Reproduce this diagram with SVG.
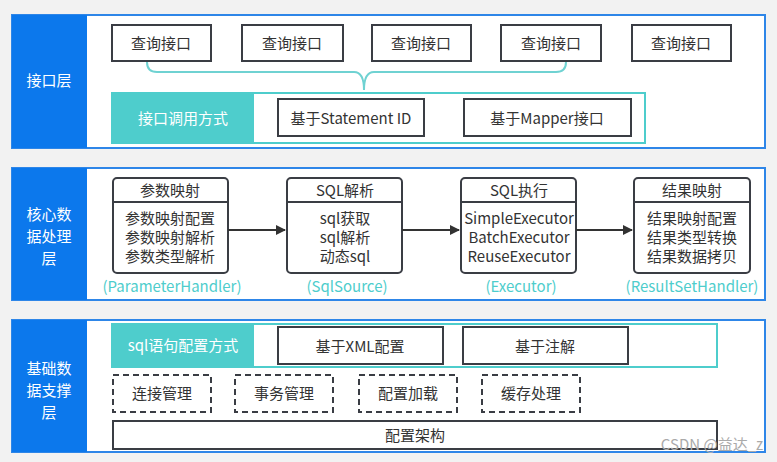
<svg xmlns="http://www.w3.org/2000/svg" width="777" height="462" viewBox="0 0 777 462">
<style>
text{font-family:"Noto Sans CJK SC","Noto Sans",sans-serif;font-size:15px;fill:#333;text-anchor:middle}
.w{fill:#fff}
.t{fill:#4ecdcc}
.layer{fill:#fff;stroke:#2e86e8;stroke-width:2}
.side{fill:#0c78ec}
.box{fill:#fff;stroke:#3a3d44;stroke-width:2}
.dash{fill:#fff;stroke:#3a3d44;stroke-width:2;stroke-dasharray:6 4}
.row{fill:#fff;stroke:#4ecdcc;stroke-width:2}
.card{fill:#fff;stroke:#3a3d44;stroke-width:2}
</style>
<defs><marker id="a" markerWidth="10" markerHeight="10" refX="9" refY="5" orient="auto" markerUnits="userSpaceOnUse"><path d="M0,0 L10,5 L0,10Z" fill="#333"/></marker></defs>
<rect width="777" height="462" fill="#f2f2f2"/>
<g id="layer1">
<rect class="layer" x="12" y="15" width="753" height="133"/>
<rect class="side" x="12" y="15" width="75" height="133"/>
<text class="w" x="49" y="86">接口层</text>
</g>
<g id="q1"><rect class="box" x="112" y="25" width="99" height="36"/><text x="161" y="49">查询接口</text></g>
<g id="q2"><rect class="box" x="242" y="25" width="101" height="36"/><text x="292" y="49">查询接口</text></g>
<g id="q3"><rect class="box" x="372" y="25" width="99" height="36"/><text x="421" y="49">查询接口</text></g>
<g id="q4"><rect class="box" x="501" y="25" width="100" height="36"/><text x="551" y="49">查询接口</text></g>
<g id="q5"><rect class="box" x="632" y="25" width="99" height="36"/><text x="681" y="49">查询接口</text></g>
<g id="call">
<rect class="row" x="112" y="93" width="533" height="50"/>
<rect class="t" x="112" y="92" width="142" height="52"/>
<text class="w" x="183" y="124">接口调用方式</text>
</g>
<g id="s1"><rect class="box" x="278" y="99" width="146" height="37"/><text x="351" y="124">基于Statement ID</text></g>
<g id="s2"><rect class="box" x="464" y="99" width="167" height="37"/><text x="547" y="124">基于Mapper接口</text></g>

<g id="layer2">
<rect class="layer" x="12" y="168" width="753" height="132"/>
<rect class="side" x="12" y="168" width="75" height="132"/>
<text class="w" x="49" y="220">核心数</text><text class="w" x="49" y="242">据处理</text><text class="w" x="49" y="264">层</text>
</g>
<g id="c1"><rect class="card" x="113" y="178" width="115" height="95" rx="4"/><line x1="113" y1="202" x2="228" y2="202" stroke="#3a3d44" stroke-width="2"/>
<text x="170" y="196">参数映射</text><text x="170" y="224" font-size="13">参数映射配置</text><text x="170" y="243" font-size="13">参数映射解析</text><text x="170" y="262" font-size="13">参数类型解析</text>
<text class="t" x="172" y="292">(ParameterHandler)</text></g>
<g id="c2"><rect class="card" x="287" y="178" width="115" height="95" rx="4"/><line x1="287" y1="202" x2="402" y2="202" stroke="#3a3d44" stroke-width="2"/>
<text x="345" y="196">SQL解析</text><text x="345" y="224" font-size="13">sql获取</text><text x="345" y="243" font-size="13">sql解析</text><text x="345" y="262" font-size="13">动态sql</text>
<text class="t" x="347" y="292">(SqlSource)</text></g>
<g id="c3"><rect class="card" x="461" y="178" width="115" height="95" rx="4"/><line x1="461" y1="202" x2="576" y2="202" stroke="#3a3d44" stroke-width="2"/>
<text x="519" y="196">SQL执行</text><text x="519" y="224" font-size="13">SimpleExecutor</text><text x="519" y="243" font-size="13">BatchExecutor</text><text x="519" y="262" font-size="13">ReuseExecutor</text>
<text class="t" x="521" y="292">(Executor)</text></g>
<g id="c4"><rect class="card" x="634" y="178" width="116" height="95" rx="4"/><line x1="634" y1="202" x2="750" y2="202" stroke="#3a3d44" stroke-width="2"/>
<text x="692" y="196">结果映射</text><text x="692" y="224" font-size="13">结果映射配置</text><text x="692" y="243" font-size="13">结果类型转换</text><text x="692" y="262" font-size="13">结果数据拷贝</text>
<text class="t" x="692" y="292">(ResultSetHandler)</text></g>

<g id="layer3">
<rect class="layer" x="12" y="320" width="753" height="132"/>
<rect class="side" x="12" y="320" width="75" height="132"/>
<text class="w" x="49" y="374">基础数</text><text class="w" x="49" y="396">据支撑</text><text class="w" x="49" y="418">层</text>
</g>
<g id="cfg">
<rect class="row" x="112" y="324" width="605" height="43"/>
<rect class="t" x="112" y="323" width="142" height="45"/>
<text class="w" x="183" y="351">sql语句配置方式</text>
</g>
<g id="x1"><rect class="box" x="278" y="327" width="165" height="37"/><text x="360" y="352">基于XML配置</text></g>
<g id="x2"><rect class="box" x="463" y="327" width="165" height="37"/><text x="545" y="352">基于注解</text></g>
<g id="d1"><rect class="dash" x="113" y="375" width="98" height="37"/><text x="162" y="399">连接管理</text></g>
<g id="d2"><rect class="dash" x="235" y="375" width="98" height="37"/><text x="284" y="399">事务管理</text></g>
<g id="d3"><rect class="dash" x="359" y="375" width="98" height="37"/><text x="408" y="399">配置加载</text></g>
<g id="d4"><rect class="dash" x="482" y="375" width="98" height="37"/><text x="531" y="399">缓存处理</text></g>
<g id="base"><rect class="box" x="113" y="421" width="604" height="28"/><text x="415" y="441">配置架构</text></g>

<g id="connectors" fill="none" stroke-width="2">
<path d="M147,62 Q147,72 157,72 L354,72 Q364,72 364,90 Q364,72 374,72 L556,72 Q566,72 566,62" stroke="#6fd2d2"/>
<line x1="228" y1="230" x2="285" y2="230" stroke="#333" marker-end="url(#a)"/>
<line x1="402" y1="230" x2="459" y2="230" stroke="#333" marker-end="url(#a)"/>
<line x1="576" y1="230" x2="632" y2="230" stroke="#333" marker-end="url(#a)"/>
</g>
<text x="712" y="450" font-size="12" style="fill:#aaa">CSDN @益达_z</text>
</svg>
